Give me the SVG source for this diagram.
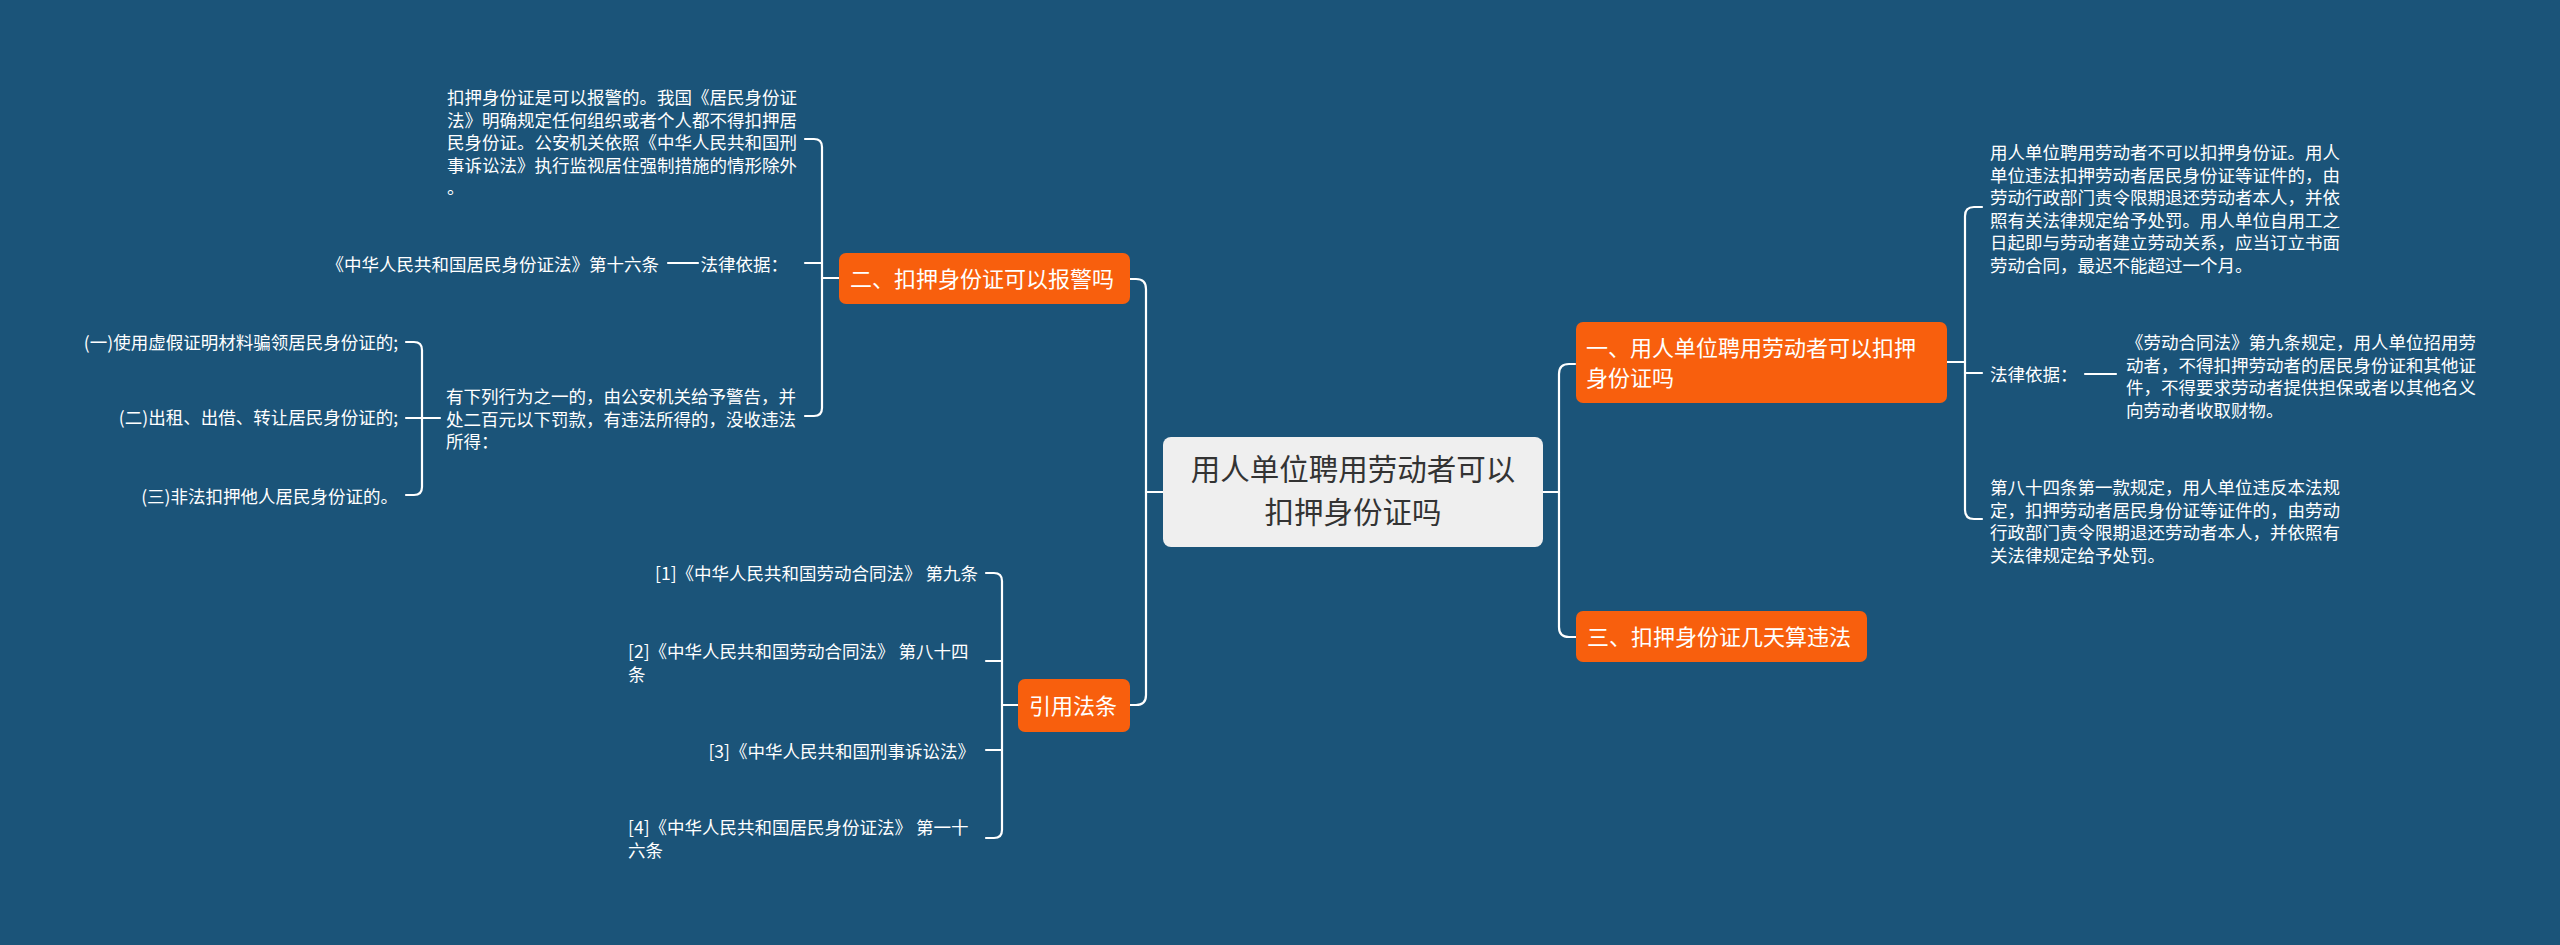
<svg xmlns="http://www.w3.org/2000/svg" width="2560" height="945" viewBox="0 0 2560 945">
<style>
text{font-family:"Noto Sans CJK SC","Noto Sans",sans-serif;fill:#ffffff;}
.s{font-size:17.5px;}
.n{font-size:22px;}
.c{font-size:29.5px;fill:#333333;}
.e{text-anchor:end;}
.box{fill:#f85f0d;}
.conn{fill:none;stroke:#ffffff;stroke-width:2.2;stroke-linecap:round;stroke-linejoin:round;}
</style>
<rect x="0" y="0" width="2560" height="945" fill="#1b5479"/>
<g id="connectors" class="conn">
<path d="M1543,492 H1559"/>
<path d="M1575,364 H1569 Q1559,364 1559,374 V627 Q1559,637 1569,637 H1576"/>
<path d="M1163,492 H1146"/>
<path d="M1130,279 H1136 Q1146,279 1146,289 V695 Q1146,705 1136,705 H1130"/>
<path d="M1947,362 H1965"/>
<path d="M1982,207 H1974 Q1965,207 1965,216 V510 Q1965,519 1974,519 H1982"/>
<path d="M1965,373 H1982"/>
<path d="M2085,374 H2116"/>
<path d="M839,278 H822"/>
<path d="M805,139 H814 Q822,139 822,147 V408 Q822,416 814,416 H805"/>
<path d="M822,263 H805"/>
<path d="M668,263 H698"/>
<path d="M406,342 H414 Q422,342 422,350 V487 Q422,495 414,495 H406"/>
<path d="M406,418 H440"/>
<path d="M1018,705 H1002"/>
<path d="M986,573 H994 Q1002,573 1002,581 V830 Q1002,838 994,838 H986"/>
<path d="M986,661 H1002"/>
<path d="M986,750 H1002"/>
</g>
<g id="center">
<rect x="1163" y="437" width="380" height="110" rx="8" fill="#efefef"/>
<text class="c" x="1353" y="479.5" text-anchor="middle">用人单位聘用劳动者可以</text>
<text class="c" x="1353" y="522.5" text-anchor="middle">扣押身份证吗</text>
</g>
<g id="node1">
<rect class="box" x="1576" y="322" width="371" height="81" rx="7"/>
<text class="n" x="1586" y="356">一、用人单位聘用劳动者可以扣押</text>
<text class="n" x="1586" y="386">身份证吗</text>
</g>
<g id="node1-a">
<text class="s" x="1990" y="159">用人单位聘用劳动者不可以扣押身份证。用人</text>
<text class="s" x="1990" y="181.5">单位违法扣押劳动者居民身份证等证件的，由</text>
<text class="s" x="1990" y="204">劳动行政部门责令限期退还劳动者本人，并依</text>
<text class="s" x="1990" y="226.5">照有关法律规定给予处罚。用人单位自用工之</text>
<text class="s" x="1990" y="249">日起即与劳动者建立劳动关系，应当订立书面</text>
<text class="s" x="1990" y="271.5">劳动合同，最迟不能超过一个月。</text>
</g>
<g id="node1-b">
<text class="s" x="1990" y="381">法律依据：</text>
</g>
<g id="node1-b1">
<text class="s" x="2126" y="349">《劳动合同法》第九条规定，用人单位招用劳</text>
<text class="s" x="2126" y="371.5">动者，不得扣押劳动者的居民身份证和其他证</text>
<text class="s" x="2126" y="394">件，不得要求劳动者提供担保或者以其他名义</text>
<text class="s" x="2126" y="416.5">向劳动者收取财物。</text>
</g>
<g id="node1-c">
<text class="s" x="1990" y="494">第八十四条第一款规定，用人单位违反本法规</text>
<text class="s" x="1990" y="516.5">定，扣押劳动者居民身份证等证件的，由劳动</text>
<text class="s" x="1990" y="539">行政部门责令限期退还劳动者本人，并依照有</text>
<text class="s" x="1990" y="561.5">关法律规定给予处罚。</text>
</g>
<g id="node3">
<rect class="box" x="1576" y="611" width="291" height="51" rx="7"/>
<text class="n" x="1587" y="645">三、扣押身份证几天算违法</text>
</g>
<g id="node2">
<rect class="box" x="839" y="253" width="291" height="51" rx="7"/>
<text class="n" x="850" y="287">二、扣押身份证可以报警吗</text>
</g>
<g id="node2-a">
<text class="s" x="447" y="104">扣押身份证是可以报警的。我国《居民身份证</text>
<text class="s" x="447" y="126.5">法》明确规定任何组织或者个人都不得扣押居</text>
<text class="s" x="447" y="149">民身份证。公安机关依照《中华人民共和国刑</text>
<text class="s" x="447" y="171.5">事诉讼法》执行监视居住强制措施的情形除外</text>
<text class="s" x="447" y="194">。</text>
</g>
<g id="node2-b">
<text class="s e" x="788" y="271">法律依据：</text>
</g>
<g id="node2-b1">
<text class="s e" x="659" y="271">《中华人民共和国居民身份证法》第十六条</text>
</g>
<g id="node2-c">
<text class="s" x="446" y="403">有下列行为之一的，由公安机关给予警告，并</text>
<text class="s" x="446" y="425.5">处二百元以下罚款，有违法所得的，没收违法</text>
<text class="s" x="446" y="448">所得：</text>
</g>
<g id="node2-c1"><text class="s e" x="398" y="349">(一)使用虚假证明材料骗领居民身份证的;</text></g>
<g id="node2-c2"><text class="s e" x="398" y="424">(二)出租、出借、转让居民身份证的;</text></g>
<g id="node2-c3"><text class="s e" x="398" y="503">(三)非法扣押他人居民身份证的。</text></g>
<g id="node4">
<rect class="box" x="1018" y="679" width="112" height="53" rx="7"/>
<text class="n" x="1029" y="714">引用法条</text>
</g>
<g id="ref1"><text class="s e" x="978" y="580">[1]《中华人民共和国劳动合同法》 第九条</text></g>
<g id="ref2">
<text class="s" x="628" y="658">[2]《中华人民共和国劳动合同法》 第八十四</text>
<text class="s" x="628" y="681">条</text>
</g>
<g id="ref3"><text class="s e" x="975" y="758">[3]《中华人民共和国刑事诉讼法》</text></g>
<g id="ref4">
<text class="s" x="628" y="834">[4]《中华人民共和国居民身份证法》 第一十</text>
<text class="s" x="628" y="857">六条</text>
</g>
</svg>
